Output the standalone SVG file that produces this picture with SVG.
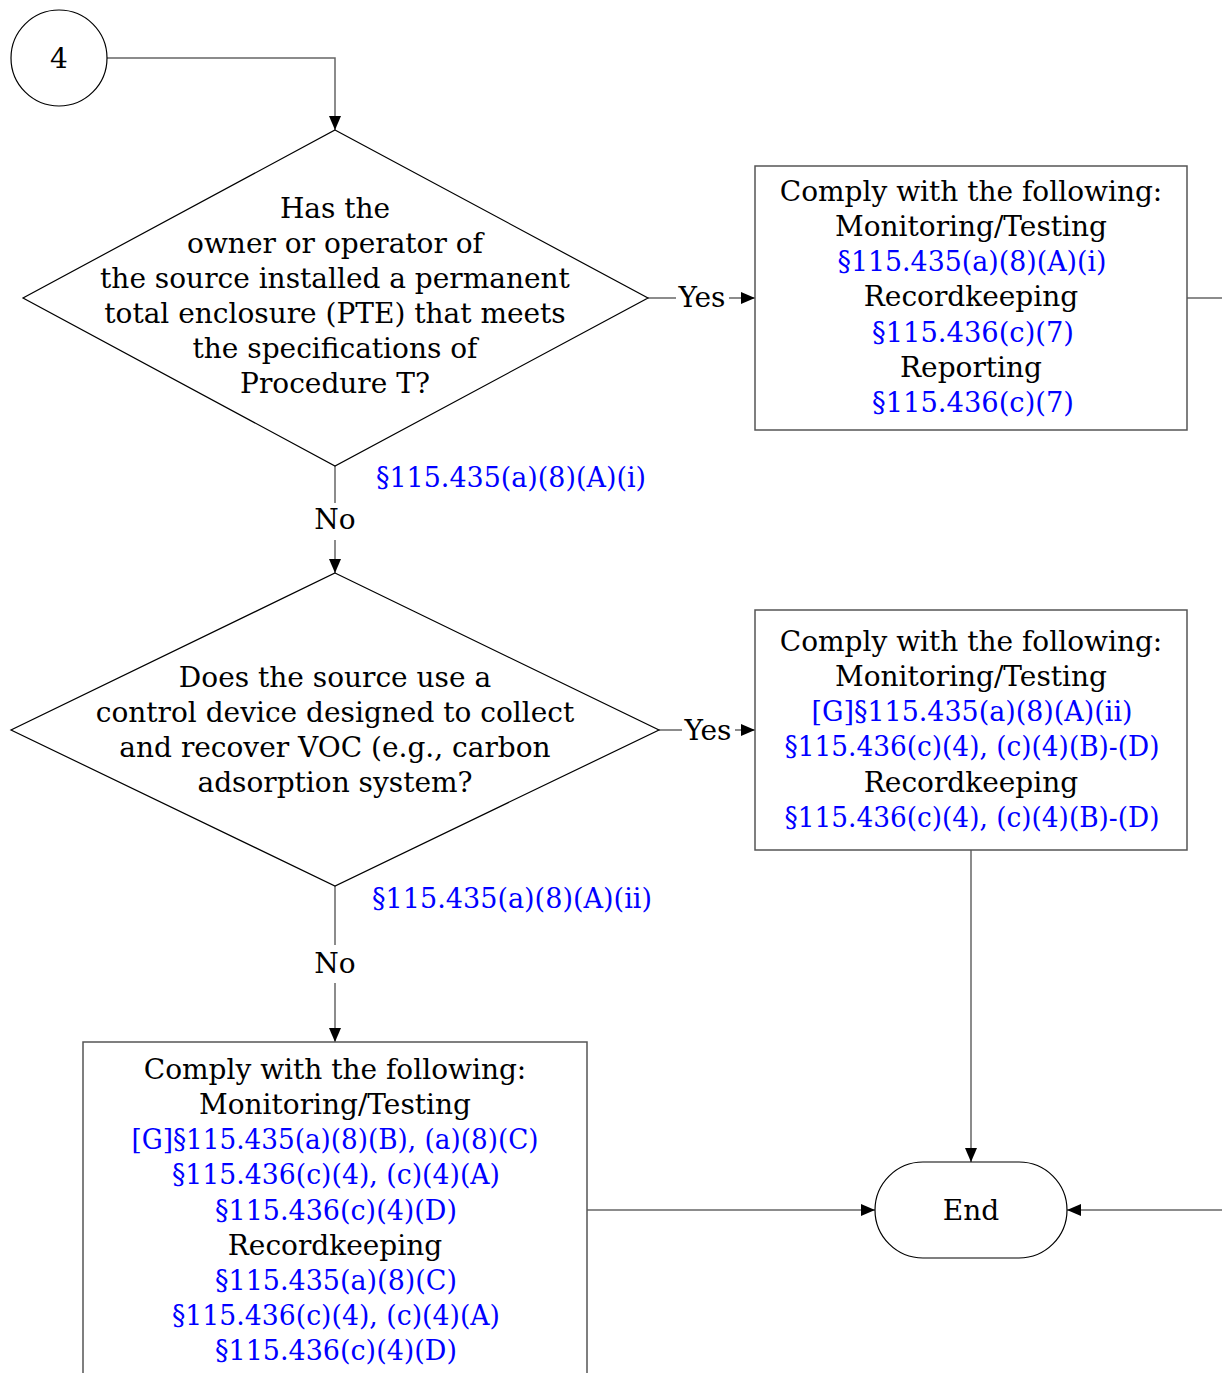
<svg xmlns="http://www.w3.org/2000/svg" width="1222" height="1373" viewBox="0 0 1222 1373">
<defs>
<marker id="arr" viewBox="0 0 14 12" refX="14" refY="6" markerWidth="14" markerHeight="12" markerUnits="userSpaceOnUse" orient="auto">
<path d="M0,0 L14,6 L0,12 Z" fill="#000"/>
</marker>
<style>
text{font-family:"DejaVu Serif",serif;font-size:28px;text-anchor:middle;fill:#000}
.b{fill:#0000ff}
.l{text-anchor:start}
.shape{fill:#fff;stroke:#000;stroke-width:1.2}
.box{fill:#fff;stroke:#555;stroke-width:1.5}
.con{fill:none;stroke:#666;stroke-width:1.5}
</style>
</defs>
<rect width="1222" height="1373" fill="#fff"/>
<g id="connectors">
<path class="con" d="M107,58 H335 V130" marker-end="url(#arr)"/>
<path class="con" d="M648,298 H676"/>
<path class="con" d="M729,298 H755" marker-end="url(#arr)"/>
<path class="con" d="M1187,298 H1222"/>
<path class="con" d="M335,466 V503"/>
<path class="con" d="M335,540 V573" marker-end="url(#arr)"/>
<path class="con" d="M659,730 H682"/>
<path class="con" d="M735,730 H755" marker-end="url(#arr)"/>
<path class="con" d="M971,850 V1162" marker-end="url(#arr)"/>
<path class="con" d="M335,886 V945"/>
<path class="con" d="M335,983 V1042" marker-end="url(#arr)"/>
<path class="con" d="M587,1210 H875" marker-end="url(#arr)"/>
<path class="con" d="M1222,1210 H1067" marker-end="url(#arr)"/>
<text x="702" y="307">Yes</text>
<text x="708" y="740">Yes</text>
<text x="335" y="529">No</text>
<text x="335" y="973">No</text>
<text class="b l" x="376" y="487" textLength="270" lengthAdjust="spacingAndGlyphs">§115.435(a)(8)(A)(i)</text>
<text class="b l" x="372" y="908" textLength="280" lengthAdjust="spacingAndGlyphs">§115.435(a)(8)(A)(ii)</text>
</g>
<g id="start4">
<circle class="shape" cx="59" cy="58" r="48"/>
<text x="59" y="68">4</text>
</g>
<g id="decision1">
<polygon class="shape" points="335,130 648,298 335,466 23,298"/>
<text x="335" y="218">Has the</text>
<text x="335" y="253">owner or operator of</text>
<text x="335" y="288">the source installed a permanent</text>
<text x="335" y="323">total enclosure (PTE) that meets</text>
<text x="335" y="358">the specifications of</text>
<text x="335" y="393">Procedure T?</text>
</g>
<g id="box1">
<rect class="box" x="755" y="166" width="432" height="264"/>
<text x="971" y="201">Comply with the following:</text>
<text x="971" y="236">Monitoring/Testing</text>
<text class="b" x="972" y="271" textLength="269" lengthAdjust="spacingAndGlyphs">§115.435(a)(8)(A)(i)</text>
<text x="971" y="306">Recordkeeping</text>
<text class="b" x="973" y="342" textLength="202" lengthAdjust="spacingAndGlyphs">§115.436(c)(7)</text>
<text x="971" y="377">Reporting</text>
<text class="b" x="973" y="412" textLength="202" lengthAdjust="spacingAndGlyphs">§115.436(c)(7)</text>
</g>
<g id="decision2">
<polygon class="shape" points="335,573 659,730 335,886 11,730"/>
<text x="335" y="687">Does the source use a</text>
<text x="335" y="722">control device designed to collect</text>
<text x="335" y="757">and recover VOC (e.g., carbon</text>
<text x="335" y="792">adsorption system?</text>
</g>
<g id="box2">
<rect class="box" x="755" y="610" width="432" height="240"/>
<text x="971" y="651">Comply with the following:</text>
<text x="971" y="686">Monitoring/Testing</text>
<text class="b" x="972" y="721" textLength="321" lengthAdjust="spacingAndGlyphs">[G]§115.435(a)(8)(A)(ii)</text>
<text class="b" x="972" y="756" textLength="375" lengthAdjust="spacingAndGlyphs">§115.436(c)(4), (c)(4)(B)-(D)</text>
<text x="971" y="792">Recordkeeping</text>
<text class="b" x="972" y="827" textLength="375" lengthAdjust="spacingAndGlyphs">§115.436(c)(4), (c)(4)(B)-(D)</text>
</g>
<g id="box3">
<rect class="box" x="83" y="1042" width="504" height="345"/>
<text x="335" y="1079">Comply with the following:</text>
<text x="335" y="1114">Monitoring/Testing</text>
<text class="b" x="335" y="1149" textLength="407" lengthAdjust="spacingAndGlyphs">[G]§115.435(a)(8)(B), (a)(8)(C)</text>
<text class="b" x="336" y="1184" textLength="328" lengthAdjust="spacingAndGlyphs">§115.436(c)(4), (c)(4)(A)</text>
<text class="b" x="336" y="1220" textLength="242" lengthAdjust="spacingAndGlyphs">§115.436(c)(4)(D)</text>
<text x="335" y="1255">Recordkeeping</text>
<text class="b" x="336" y="1290" textLength="242" lengthAdjust="spacingAndGlyphs">§115.435(a)(8)(C)</text>
<text class="b" x="336" y="1325" textLength="328" lengthAdjust="spacingAndGlyphs">§115.436(c)(4), (c)(4)(A)</text>
<text class="b" x="336" y="1360" textLength="242" lengthAdjust="spacingAndGlyphs">§115.436(c)(4)(D)</text>
</g>
<g id="end">
<rect class="shape" x="875" y="1162" width="192" height="96" rx="48" ry="48"/>
<text x="971" y="1220">End</text>
</g>
</svg>
